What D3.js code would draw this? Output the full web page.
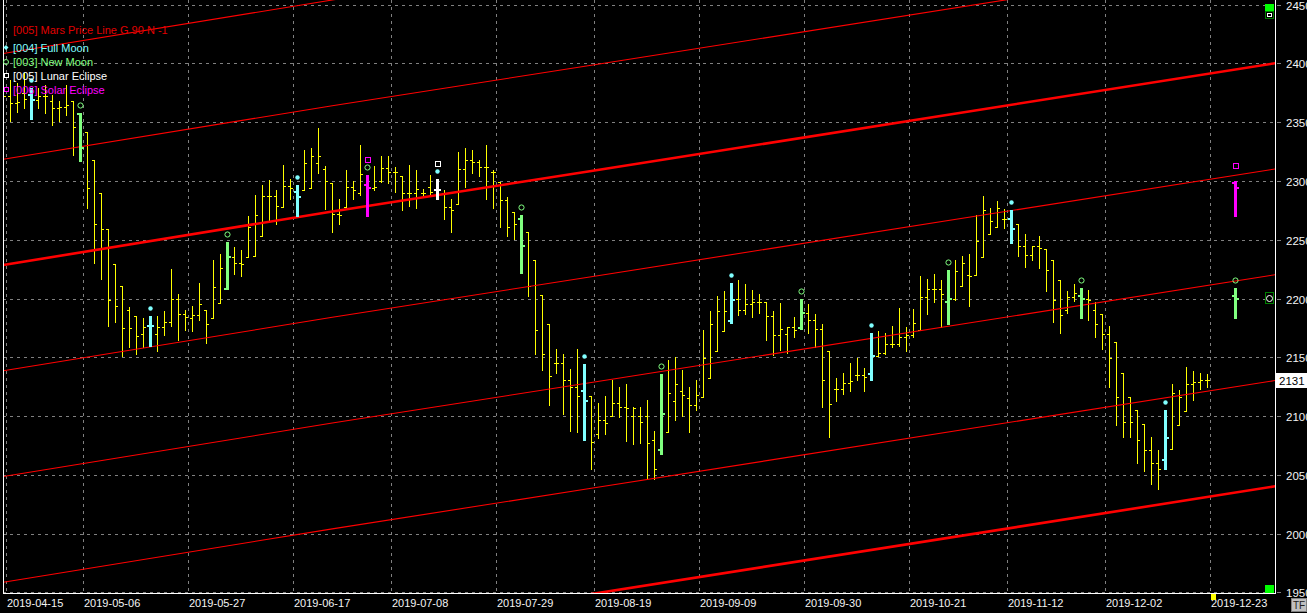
<!DOCTYPE html>
<html><head><meta charset="utf-8">
<script src="https://cdn.jsdelivr.net/npm/d3@7/dist/d3.min.js"></script>
<style>html,body{margin:0;padding:0;background:#000;overflow:hidden}svg{display:block}</style>
</head><body><svg id="c" width="1307" height="613"></svg>
<script>
// ---- data ----
const barOpen = [2365,2372,2366,2375,2373,2369,2372,2368,2362,2363,2368,2357,2342,2318,2290,2259,2229,2211,2190,2185,
2170,2177,2170,2176,2180,2200,2187,2183,2186,2190,2183,2196,2208,2235,2230,2235,2236,2253,2287,2287,
2278,2296,2291,2292,2294,2315,2310,2298,2272,2278,2295,2290,2297,2294,2300,2311,2308,2304,2290,2290,
2290,2295,2292,2290,2278,2280,2310,2318,2316,2312,2308,2299,2284,2274,2268,2257,2233,2203,2178,2145,
2145,2131,2125,2121,2117,2085,2097,2100,2111,2108,2100,2100,2100,2080,2071,2086,2113,2121,2115,2109,
2116,2132,2155,2172,2181,2200,2190,2195,2197,2197,2185,2169,2170,2176,2175,2188,2182,2174,2155,2123,
2123,2128,2135,2135,2136,2151,2154,2161,2161,2167,2169,2173,2201,2208,2208,2197,2200,2211,2220,2220,
2235,2255,2261,2268,2268,2263,2245,2237,2245,2242,2233,2216,2190,2201,2202,2200,2190,2187,2170,2163,
2137,2116,2105,2093,2071,2060,2063,2072,2092,2104,2127,2129,2131];
const barHigh = [2380,2386,2383,2392,2379,2379,2382,2373,2368,2382,2368,2358,2342,2318,2290,2259,2229,2211,2193,2185,
2183,2185,2185,2189,2225,2204,2190,2194,2213,2190,2233,2238,2248,2244,2241,2270,2288,2297,2301,2292,
2314,2302,2297,2326,2328,2345,2313,2298,2285,2309,2300,2331,2305,2313,2321,2321,2312,2304,2314,2309,
2293,2305,2302,2292,2285,2325,2328,2326,2318,2331,2309,2299,2286,2274,2271,2257,2233,2203,2178,2157,
2153,2140,2157,2144,2117,2111,2117,2131,2125,2127,2108,2108,2114,2087,2136,2148,2150,2139,2125,2131,
2173,2189,2202,2206,2213,2216,2212,2207,2204,2197,2189,2196,2176,2184,2200,2195,2187,2178,2155,2132,
2137,2145,2149,2141,2171,2172,2171,2177,2192,2176,2191,2219,2217,2221,2216,2224,2233,2236,2238,2271,
2287,2277,2283,2276,2275,2263,2255,2245,2253,2242,2233,2216,2206,2212,2209,2207,2197,2187,2177,2163,
2137,2116,2105,2093,2082,2071,2105,2127,2122,2142,2138,2137,2136];
const barLow = [2355,2351,2359,2362,2353,2362,2358,2348,2351,2356,2322,2317,2277,2230,2217,2177,2180,2151,2159,2153,
2159,2160,2155,2169,2177,2165,2173,2172,2182,2162,2183,2196,2208,2221,2219,2235,2236,2253,2267,2263,
2278,2285,2270,2292,2294,2307,2276,2257,2263,2278,2285,2288,2270,2292,2299,2298,2291,2275,2279,2277,
2286,2287,2285,2268,2257,2280,2295,2307,2304,2285,2277,2261,2253,2251,2222,2202,2153,2139,2109,2137,
2102,2087,2086,2080,2055,2081,2085,2100,2099,2079,2076,2077,2046,2046,2068,2086,2097,2100,2086,2105,
2116,2132,2155,2172,2179,2186,2187,2184,2188,2165,2152,2156,2154,2167,2174,2171,2159,2108,2082,2113,
2119,2121,2131,2121,2131,2151,2153,2159,2160,2155,2167,2173,2187,2197,2176,2178,2199,2211,2194,2220,
2235,2255,2261,2260,2247,2236,2227,2233,2226,2206,2180,2171,2188,2198,2183,2182,2167,2157,2125,2092,
2082,2082,2060,2053,2042,2038,2055,2072,2092,2104,2114,2123,2125];
const barClose = [2372,2366,2367,2370,2369,2372,2372,2362,2363,2365,2346,2328,2294,2263,2259,2199,2194,2175,2175,2168,
2176,2177,2176,2180,2200,2187,2184,2186,2195,2178,2210,2226,2235,2230,2229,2261,2271,2287,2287,2279,
2296,2294,2286,2315,2321,2321,2300,2272,2271,2295,2292,2306,2294,2295,2311,2308,2308,2290,2290,2293,
2290,2291,2292,2278,2275,2310,2318,2316,2312,2312,2308,2284,2261,2263,2245,2211,2173,2153,2134,2145,
2131,2125,2117,2113,2078,2097,2094,2111,2108,2107,2107,2095,2077,2055,2102,2120,2127,2118,2109,2118,
2149,2178,2189,2189,2199,2190,2195,2197,2197,2185,2169,2174,2176,2173,2188,2182,2174,2131,2110,2123,
2128,2130,2135,2133,2151,2154,2161,2161,2167,2169,2179,2201,2208,2208,2204,2200,2223,2230,2219,2249,
2275,2266,2277,2268,2259,2245,2237,2245,2243,2224,2199,2186,2201,2205,2200,2199,2178,2170,2149,2116,
2095,2095,2080,2071,2060,2055,2081,2120,2116,2127,2129,2131,2131];
const fullMoonBars = [4,21,42,62,83,104,124,144,166];
const newMoonBars = [11,32,52,74,94,114,135,154];
const lunarEclipseBars = [62];
const solarEclipseBars = [52];
// projected event bars to the right of the last bar
const futureIndex = [176,176];
const futureType = ["newMoon","solarEclipse"];
const futureOpen = [2202,2298];
const futureHigh = [2209,2300];
const futureLow = [2183,2270];
const futureClose = [2200,2294];
// x axis labels at bar indices
const dateLabels = ["2019-04-15","2019-05-06","2019-05-27","2019-06-17","2019-07-08","2019-07-29","2019-08-19","2019-09-09","2019-09-30","2019-10-21","2019-11-12","2019-12-02","2019-12-23"];
const dateLabelIdx = [0,11,26,41,55,70,84,99,114,129,143,157,172];
const priceTicks = [1950,2000,2050,2100,2150,2200,2250,2300,2350,2400,2450];
// Mars price line (base harmonic) read at a few bars, and harmonic offsets
const marsBaseIdx = [0,47,84,182];
const marsBaseVal = [2228.5,2274,2308.5,2400.5];
const marsOffsets = [180,90,0,-90,-180,-270,-360];
const marsThick = [false,false,true,false,false,false,true];
const lastPrice = 2131;
const legendItems = ["[004] Full Moon","[003] New Moon","[005] Lunar Eclipse","[006] Solar Eclipse"];
const legendTitle = "[005] Mars Price Line G 90 N -1";

// ---- drawing ----
const W=1307,H=613, L=3, R=1275, B=593;
const FONT='"Liberation Sans", Arial, sans-serif';
const col = {yellow:"#ffff00", full:"#80ffff", newm:"#80ff80", lunar:"#ffffff", solar:"#ff00ff", red:"#ff0000", grid:"#808080"};
const svg = d3.select("#c");
svg.append("rect").attr("width",W).attr("height",H).attr("fill","#000");
const x = d3.scaleLinear().domain([0,172]).range([3.3,1207.3]);
const y = d3.scaleLinear().domain([1950,2450]).range([592.3,4.7]);
const px = k => Math.floor(x(k));
const py = v => Math.round(y(v));

svg.append("defs").append("clipPath").attr("id","plot").append("rect").attr("x",L).attr("y",0).attr("width",R-L).attr("height",B);
const plot = svg.append("g").attr("clip-path","url(#plot)").attr("shape-rendering","crispEdges");

// grid
plot.selectAll("line.hg").data(priceTicks).join("line").attr("class","hg")
  .attr("x1",L).attr("x2",R).attr("y1",d=>py(d)+0.5).attr("y2",d=>py(d)+0.5)
  .attr("stroke",col.grid).attr("stroke-dasharray","3,4");
plot.selectAll("line.vg").data(dateLabelIdx).join("line").attr("class","vg")
  .attr("x1",d=>px(d)+3.5).attr("x2",d=>px(d)+3.5).attr("y1",0).attr("y2",B)
  .attr("stroke",col.grid).attr("stroke-dasharray","3,4");

// Mars lines
const marsG = svg.append("g").attr("clip-path","url(#plot)");
const lineGen = d3.line().x(d=>x(d[0])).y(d=>y(d[1]));
function drawMars(){
  marsOffsets.forEach((off,i)=>{
    const pts = marsBaseIdx.map((k,j)=>[k, marsBaseVal[j]+off]);
    marsG.append("path").attr("d",lineGen(pts)).attr("fill","none")
      .attr("stroke",col.red).attr("stroke-width",marsThick[i]?2.6:1.1);
  });
}

// bars
const eventColor = k => lunarEclipseBars.includes(k)?col.lunar: solarEclipseBars.includes(k)?col.solar:
   fullMoonBars.includes(k)?col.full: newMoonBars.includes(k)?col.newm:null;
const yel = plot.append("g");
const special = svg.append("g").attr("clip-path","url(#plot)").attr("shape-rendering","crispEdges");
function drawBar(g,k,o,h,l,c,color,thick){
  const cx = px(k), yh=py(h), yl=py(l);
  if(!thick){
    g.append("rect").attr("x",cx).attr("y",yh).attr("width",1).attr("height",yl-yh+1).attr("fill",color);
    g.append("rect").attr("x",cx-2).attr("y",py(o)).attr("width",2).attr("height",1).attr("fill",color);
    g.append("rect").attr("x",cx+1).attr("y",py(c)).attr("width",2).attr("height",1).attr("fill",color);
  } else {
    g.append("rect").attr("x",cx-1).attr("y",yh).attr("width",3).attr("height",yl-yh+1).attr("fill",color);
    g.append("rect").attr("x",cx-3).attr("y",py(o)-1).attr("width",2).attr("height",2).attr("fill",color);
    g.append("rect").attr("x",cx+2).attr("y",py(c)-1).attr("width",2).attr("height",2).attr("fill",color);
  }
}
barOpen.forEach((o,k)=>{ if(!eventColor(k)) drawBar(yel,k,o,barHigh[k],barLow[k],barClose[k],col.yellow,false); });
drawMars();
barOpen.forEach((o,k)=>{ const c=eventColor(k); if(c) drawBar(special,k,o,barHigh[k],barLow[k],barClose[k],c,true); });
const futColor = {newMoon:col.newm, solarEclipse:col.solar, fullMoon:col.full, lunarEclipse:col.lunar};
futureIndex.forEach((k,i)=>drawBar(special,k,futureOpen[i],futureHigh[i],futureLow[i],futureClose[i],futColor[futureType[i]],true));

// markers
const mk = svg.append("g");
function dot(k,h,off){ mk.append("circle").attr("cx",px(k)+0.5).attr("cy",py(h)-off+0.5).attr("r",2.2).attr("fill",col.full); }
function ring(k,h,off){ mk.append("circle").attr("cx",px(k)+0.5).attr("cy",py(h)-off+0.5).attr("r",2.6).attr("fill","none").attr("stroke",col.newm).attr("stroke-width",1); }
function sq(k,h,off,color){ mk.append("rect").attr("x",px(k)-2).attr("y",py(h)-off-2).attr("width",5).attr("height",5).attr("fill","none").attr("stroke",color).attr("stroke-width",1).attr("shape-rendering","crispEdges"); }
fullMoonBars.forEach(k=>dot(k,barHigh[k],8));
newMoonBars.forEach(k=>ring(k,barHigh[k],8));
lunarEclipseBars.forEach(k=>sq(k,barHigh[k],16,col.lunar));
solarEclipseBars.forEach(k=>sq(k,barHigh[k],16,col.solar));
futureIndex.forEach((k,i)=>{
  if(futureType[i]==="newMoon") ring(k,futureHigh[i],8);
  if(futureType[i]==="solarEclipse") sq(k,futureHigh[i],16,col.solar);
});

// frame
const fr = svg.append("g").attr("shape-rendering","crispEdges").attr("stroke","#fff");
fr.append("line").attr("x1",3.5).attr("x2",3.5).attr("y1",0).attr("y2",B+1);
fr.append("line").attr("x1",R+0.5).attr("x2",R+0.5).attr("y1",0).attr("y2",B+1);
fr.append("line").attr("x1",3).attr("x2",R+1).attr("y1",B+0.5).attr("y2",B+0.5);

// y axis labels
const ya = svg.append("g");
ya.selectAll("line").data(priceTicks).join("line").attr("x1",1277).attr("x2",1281)
  .attr("y1",d=>py(d)+0.5).attr("y2",d=>py(d)+0.5).attr("stroke",col.grid).attr("shape-rendering","crispEdges");
ya.selectAll("text").data(priceTicks).join("text").attr("x",1286).attr("y",d=>py(d)+0.5)
  .attr("dominant-baseline","central").attr("fill","#f4f4f4").attr("font-family",FONT).attr("font-size","11.5px").text(d=>d);
// last price box
ya.append("rect").attr("x",1276).attr("y",py(lastPrice)-7).attr("width",31).attr("height",15).attr("fill","#fff");
ya.append("text").attr("x",1279).attr("y",py(lastPrice)+0.5).attr("dominant-baseline","central")
  .attr("fill","#000").attr("font-family",FONT).attr("font-size","11.5px").text(lastPrice);

// x axis labels
svg.append("g").selectAll("text").data(dateLabelIdx).join("text")
  .attr("x",d=>px(d)+4).attr("y",603).attr("dominant-baseline","central")
  .attr("fill","#f4f4f4").attr("font-family",FONT).attr("font-size","11px").text((d,i)=>dateLabels[i]);

// legend
const lg = svg.append("g").attr("font-family",FONT).attr("font-size","11px");
lg.append("text").attr("x",13).attr("y",29.5).attr("dominant-baseline","central").attr("fill","#e00000").text(legendTitle);
const lgCols=[col.full,col.newm,col.lunar,col.solar], lgY=[47.5,62,76,90];
legendItems.forEach((t,i)=>lg.append("text").attr("x",13).attr("y",lgY[i]).attr("dominant-baseline","central").attr("fill",lgCols[i]).text(t));
lg.append("path").attr("d",`M6,${lgY[0]-2.5}L8.5,${lgY[0]}L6,${lgY[0]+2.5}L3.5,${lgY[0]}Z`).attr("fill",col.full);
lg.append("circle").attr("cx",6).attr("cy",lgY[1]).attr("r",2.5).attr("fill","none").attr("stroke",col.newm);
lg.append("rect").attr("x",4.5).attr("y",lgY[2]-2.5).attr("width",4).attr("height",4).attr("fill","none").attr("stroke",col.lunar).attr("shape-rendering","crispEdges");
lg.append("rect").attr("x",4.5).attr("y",lgY[3]-2.5).attr("width",4).attr("height",4).attr("fill","none").attr("stroke",col.solar).attr("shape-rendering","crispEdges");

// right-edge indicators
const ind = svg.append("g").attr("shape-rendering","crispEdges");
ind.append("rect").attr("x",1265).attr("y",4).attr("width",9).attr("height",7).attr("fill","#00ff00");
ind.append("rect").attr("x",1265.5).attr("y",11.5).attr("width",8).attr("height",7).attr("fill","#000").attr("stroke","#008000");
ind.append("rect").attr("x",1267.5).attr("y",13.5).attr("width",4).attr("height",3).attr("fill","none").attr("stroke","#fff");
ind.append("rect").attr("x",1265.5).attr("y",292.5).attr("width",8).attr("height",11).attr("fill","#000").attr("stroke","#008000");
ind.append("circle").attr("cx",1269.5).attr("cy",298.5).attr("r",3).attr("fill","#000").attr("stroke","#fff").attr("shape-rendering","auto");
ind.append("rect").attr("x",1265).attr("y",585).attr("width",9).attr("height",8).attr("fill","#00ff00");
ind.append("rect").attr("x",1211).attr("y",594).attr("width",5).attr("height",6).attr("fill","#ffff00");
// TF button
ind.append("rect").attr("x",1291.5).attr("y",598.5).attr("width",15).attr("height",13).attr("fill","#c0c0c0").attr("stroke","#808080");
svg.append("text").attr("x",1299).attr("y",605.5).attr("text-anchor","middle").attr("dominant-baseline","central")
  .attr("font-family",FONT).attr("font-size","10px").attr("fill","#202020").text("TF");
</script></body></html>
